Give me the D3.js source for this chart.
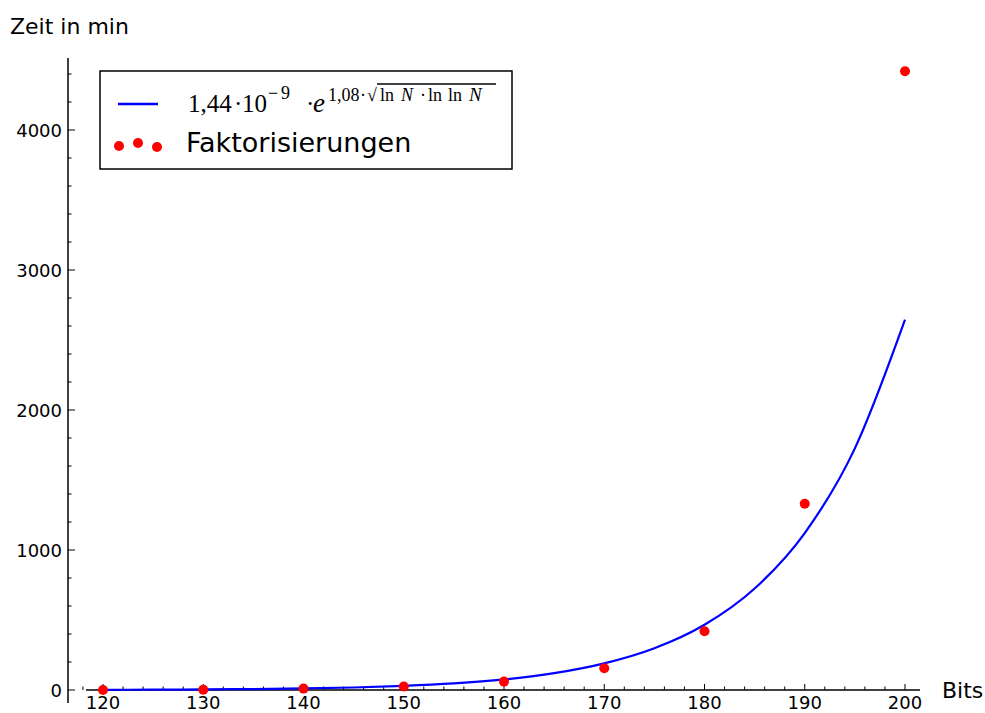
<!DOCTYPE html>
<html><head><meta charset="utf-8">
<script src="https://cdn.jsdelivr.net/npm/d3@7"></script>
<style>body{margin:0;background:#fff}svg{display:block}</style>
</head><body>
<svg id="c" width="985" height="713"></svg>
<script>
// Curve values (bits -> minutes)
const curveBits = [120,125,130,135,140,145,150,155,160,165,170,175,180,185,190,195,200];
const curveMin  = [1.4,2.4,4.0,6.7,11.0,18.0,29.2,47.0,75.3,120,190,298,466,725,1121,1726,2645];
// Measured factorisations
const dotBits = [120,130,140,150,160,170,180,190,200];
const dotMin  = [0,2,10,25,60,155,420,1330,4420];
const xTicks = [120,130,140,150,160,170,180,190,200];
const yTicks = [0,1000,2000,3000,4000];

const svg = d3.select("#c");
const x = d3.scaleLinear().domain([120,200]).range([103,905]);
const y = d3.scaleLinear().domain([0,4000]).range([690,130]);

// x axis line
svg.append("line").attr("x1",86).attr("x2",920).attr("y1",y(0)).attr("y2",y(0))
  .attr("stroke","#000").attr("stroke-width",1.5);
// y axis line
svg.append("line").attr("x1",68).attr("x2",68).attr("y1",58).attr("y2",703)
  .attr("stroke","#000").attr("stroke-width",1.5);

// x ticks
const xMinor = d3.range(118,202,2);
svg.append("g").selectAll("line").data(xMinor).join("line")
  .attr("x1",d=>x(d)).attr("x2",d=>x(d))
  .attr("y1",y(0)).attr("y2",d=>y(0)-(d%10===0?6:3.5))
  .attr("stroke","#000").attr("stroke-width",1);
svg.append("g").selectAll("text").data(xTicks).join("text")
  .attr("x",d=>x(d)).attr("y",709).attr("text-anchor","middle")
  .attr("font-family","DejaVu Sans").attr("font-size",18).text(d=>d);

// y ticks
const yMinor = d3.range(0,4600,200);
svg.append("g").selectAll("line").data(yMinor).join("line")
  .attr("x1",68).attr("x2",d=>68+(d%1000===0?7:3.5))
  .attr("y1",d=>y(d)).attr("y2",d=>y(d))
  .attr("stroke","#000").attr("stroke-width",1);
svg.append("g").selectAll("text").data(yTicks).join("text")
  .attr("x",62).attr("y",d=>y(d)+6.5).attr("text-anchor","end")
  .attr("font-family","DejaVu Sans").attr("font-size",18).text(d=>d);

// axis labels
svg.append("text").attr("x",10).attr("y",34).attr("font-family","DejaVu Sans").attr("font-size",22).text("Zeit in min");
svg.append("text").attr("x",942).attr("y",698).attr("font-family","DejaVu Sans").attr("font-size",22).text("Bits");

// curve
const line = d3.line().x((d,i)=>x(curveBits[i])).y(d=>y(d)).curve(d3.curveMonotoneX);
svg.append("path").attr("d",line(curveMin)).attr("fill","none").attr("stroke","#0000ff").attr("stroke-width",2.2);

// dots
svg.append("g").selectAll("circle").data(dotMin).join("circle")
  .attr("cx",(d,i)=>x(dotBits[i])).attr("cy",d=>y(d)).attr("r",5).attr("fill","#ff0000");

// legend
const lg = svg.append("g");
lg.append("rect").attr("x",100).attr("y",71).attr("width",412).attr("height",98)
  .attr("fill","#fff").attr("stroke","#000").attr("stroke-width",1.5);
lg.append("line").attr("x1",118).attr("x2",158).attr("y1",104).attr("y2",104).attr("stroke","#0000ff").attr("stroke-width",2.5);
const legDots = [[119,146],[138,143],[157,147]];
lg.selectAll("circle.l").data(legDots).join("circle").attr("cx",d=>d[0]).attr("cy",d=>d[1]).attr("r",5).attr("fill","#ff0000");
lg.append("text").attr("x",186).attr("y",152).attr("font-family","DejaVu Sans").attr("font-size",27).text("Faktorisierungen");

// formula (layout: [text, x, baseline, size, italic])
const ff = "Liberation Serif";
const pieces = [
  ["1,44",188,112,25,false],
  ["·",234,112,25,false],
  ["10",242,112,25,false],
  ["−",268,99,18,false],
  ["9",281,99,18,false],
  ["·",306,112,25,false],
  ["e",313,112,27,true],
  ["1,08",328,101,18,false],
  ["·",360,101,18,false],
  ["√",367,101,18,false],
  ["ln",380,101,18,false],
  ["N",401,101,18,true],
  ["·",420,101,18,false],
  ["ln",428,101,18,false],
  ["ln",448,101,18,false],
  ["N",469,101,19,true]
];
pieces.forEach(p=>{
  lg.append("text").attr("x",p[1]).attr("y",p[2]).attr("font-family",ff)
    .attr("font-size",p[3]).attr("font-style",p[4]?"italic":"normal").text(p[0]);
});
lg.append("line").attr("x1",377).attr("x2",496).attr("y1",84).attr("y2",84).attr("stroke","#000").attr("stroke-width",1.3);
</script>
</body></html>
